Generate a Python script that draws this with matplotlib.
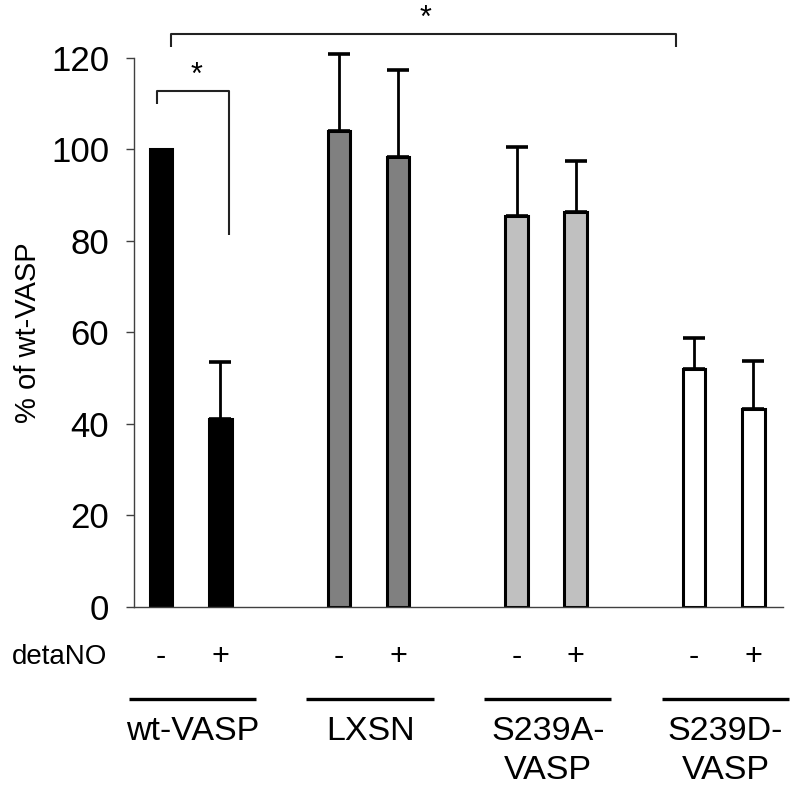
"""Bar chart: % of wt-VASP with/without detaNO for four constructs."""

import matplotlib

matplotlib.use("Agg")
import matplotlib.pyplot as plt
import numpy as np

plt.rcParams["font.family"] = ["Liberation Sans", "DejaVu Sans"]

GROUPS = ["wt-VASP", "LXSN", "S239A-\nVASP", "S239D-\nVASP"]
TREATMENT = ["-", "+"]
MEANS = [100.0, 41.0, 104.0, 98.3, 85.5, 86.3, 51.9, 43.3]
ERR_UP = [0.0, 12.6, 16.8, 18.9, 14.9, 11.2, 6.8, 10.5]
FILLS = ["#000000", "#808080", "#c0c0c0", "#ffffff"]
YTICKS = [0, 20, 40, 60, 80, 100, 120]

# bar pairs sit one unit apart, groups three units apart
positions = np.array([g * 3 + t for g in range(len(GROUPS)) for t in range(2)], float)
colors = [FILLS[g] for g in range(len(GROUPS)) for _ in range(2)]

fig = plt.figure(figsize=(8.0, 7.88), dpi=100)
ax = fig.add_axes([134 / 800, 181 / 788, 649 / 800, 549.4 / 788])

ax.bar(positions, MEANS, width=0.38, color=colors, edgecolor="black",
       linewidth=2.2, zorder=2)
means = np.array(MEANS)
errs = np.array(ERR_UP)
mask = errs > 0
eb = ax.errorbar(positions[mask], means[mask],
                 yerr=[np.zeros(mask.sum()), errs[mask]],
                 fmt="none", ecolor="black", elinewidth=2.0, capsize=8,
                 capthick=2.6, zorder=3)
for artist in eb.get_children():
    artist.set_clip_on(False)

ax.set_xlim(-0.46, 10.5)
ax.set_ylim(0, 120)
ax.set_yticks(YTICKS)
ax.tick_params(axis="y", length=6, width=1, color="#404040", labelsize=25, pad=12)
ax.tick_params(axis="x", length=0, labelbottom=False)
ax.set_xticks([])
for side in ("top", "right"):
    ax.spines[side].set_visible(False)
for side in ("left", "bottom"):
    ax.spines[side].set_color("#404040")
    ax.spines[side].set_linewidth(1.0)
ax.set_ylabel("% of wt-VASP", fontsize=21)
ax.yaxis.set_label_coords(-0.142, 0.5)

# significance brackets
kw = dict(color="#222222", lw=1.5, clip_on=False, solid_capstyle="butt")
ax.plot([-0.07, -0.07, 1.15, 1.15], [109.9, 112.8, 112.8, 81.3], **kw)
ax.text(0.59, 116.0, "*", ha="center", va="center", fontsize=22, clip_on=False)
ax.plot([0.17, 0.17, 8.7, 8.7], [122.3, 125.2, 125.2, 122.3], **kw)
ax.text(4.46, 128.4, "*", ha="center", va="center", fontsize=22, clip_on=False)

# treatment row and group labels below the axis
ax.text(-2.53, -11.0, "detaNO", ha="left", va="center", fontsize=20, clip_on=False)
for x, sign in zip(positions, TREATMENT * len(GROUPS)):
    ax.text(x, -11.0, sign, ha="center", va="center", fontsize=22, clip_on=False)
for g, label in enumerate(GROUPS):
    x0, x1 = positions[2 * g], positions[2 * g + 1]
    ax.plot([x0 - 0.55, x1 + 0.6], [-20.2, -20.2], color="black", lw=2.4,
            clip_on=False, solid_capstyle="butt")
    ax.text((x0 + x1) / 2 + 0.03, -23.8, label, ha="center", va="top",
            fontsize=24.5, linespacing=1.35, clip_on=False)

fig.savefig("out.png", dpi=100)
